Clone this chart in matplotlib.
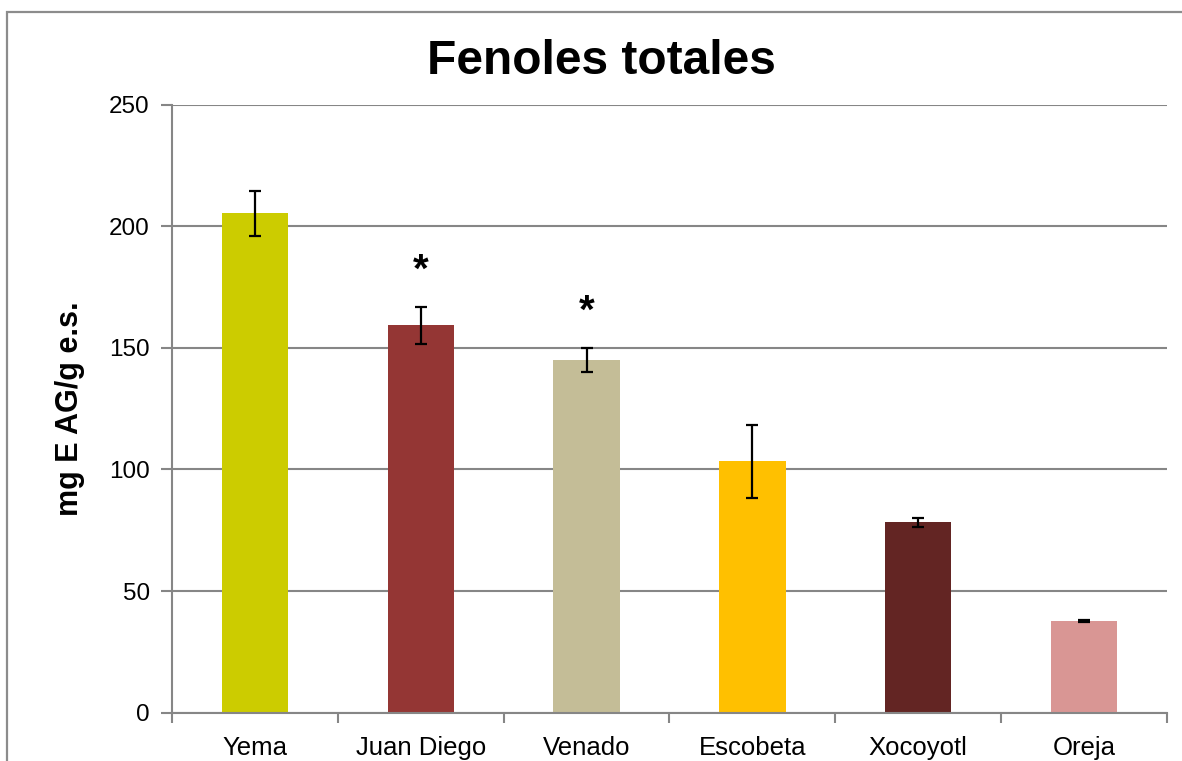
import matplotlib
matplotlib.use("Agg")
from matplotlib import pyplot as plt
from matplotlib.patches import Rectangle
import numpy as np

plt.rcParams['font.family'] = ['Liberation Sans', 'DejaVu Sans']

muestras = ["Yema", "Juan Diego", "Venado", "Escobeta", "Xocoyotl", "Oreja"]
fenoles = [205.3, 159.2, 145.1, 103.4, 78.2, 37.7]
error = [9.3, 7.6, 5.0, 15.0, 1.7, 0.6]
colores = ["#CCCC00", "#943634", "#C4BD97", "#FFC000", "#632523", "#D99694"]
significativo = [False, True, True, False, False, False]

W, H = 1182, 761
fig = plt.figure(figsize=(W / 100, H / 100), dpi=100)
ax = fig.add_axes([172 / W, 1 - 712.7 / H, (1167 - 172) / W, (712.7 - 104.5) / H])

# marco exterior del grafico
fig.patches.append(Rectangle((7 / W, -0.1), 1.2, 1 - 12 / H + 0.1, transform=fig.transFigure,
                             fill=False, edgecolor="#8c8c8c", linewidth=1.6, zorder=0))

x = np.arange(len(muestras))
ax.bar(x, fenoles, width=0.40, color=colores, zorder=2)
ax.errorbar(x, fenoles, yerr=error, fmt="none", ecolor="black", elinewidth=1.6,
            capsize=4, capthick=1.6, zorder=3)

# asteriscos de diferencia significativa
for xi, v, e, s in zip(x, fenoles, error, significativo):
    if s:
        ax.annotate("*", (xi, v + e), xytext=(0, 18), textcoords="offset points",
                    ha="center", va="baseline", fontsize=29, fontweight="bold")

ax.set_xlim(-0.5, len(muestras) - 0.5)
ax.set_ylim(0, 250)
ax.set_yticks(np.arange(0, 251, 50))
ax.yaxis.grid(True, color="#868686", linewidth=1.5, zorder=0)
ax.set_axisbelow(True)

ax.set_xticks(np.arange(-0.5, len(muestras), 1.0))
ax.set_xticklabels([])
ax.set_xticks(x, minor=True)
ax.set_xticklabels(muestras, minor=True, fontsize=18.5)
ax.tick_params(axis="x", which="major", direction="out", length=7, width=1.5, color="#868686")
ax.tick_params(axis="x", which="minor", length=0, pad=17)
ax.tick_params(axis="y", direction="out", length=8, width=1.5, color="#868686", labelsize=17.5, pad=8)

for side in ["top", "right"]:
    ax.spines[side].set_visible(False)
for side in ["left", "bottom"]:
    ax.spines[side].set_color("#868686")
    ax.spines[side].set_linewidth(1.5)

ax.set_ylabel("mg E AG/g e.s.", fontsize=22, fontweight="bold", labelpad=17)
fig.text(601 / W, 1 - 62 / H, "Fenoles totales", ha="center", va="center",
         fontsize=34.5, fontweight="bold")

fig.savefig("out.png", dpi=100)
